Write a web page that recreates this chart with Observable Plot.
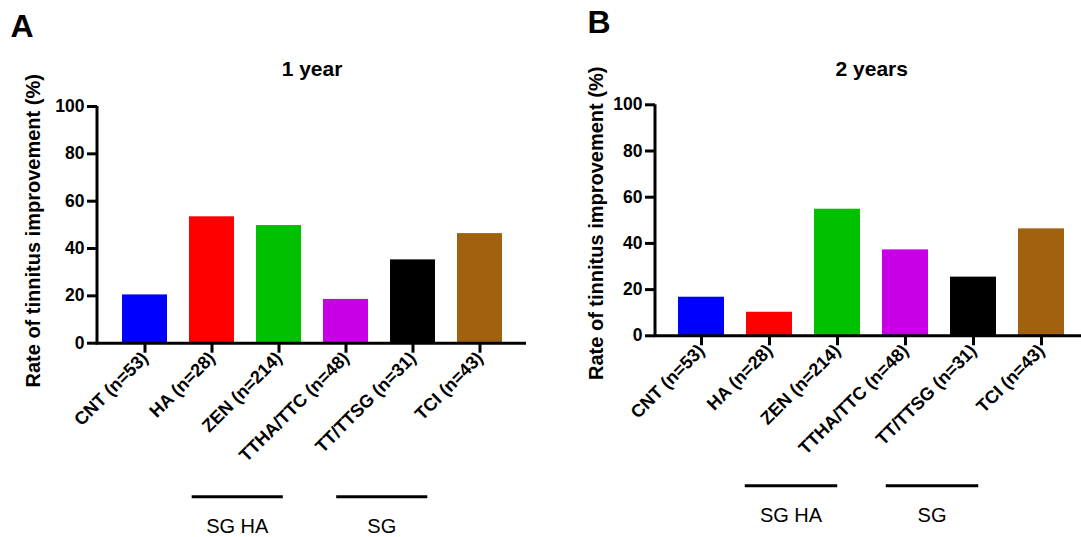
<!DOCTYPE html>
<html><head><meta charset="utf-8">
<script src="https://cdn.jsdelivr.net/npm/d3@7"></script>
<script src="https://cdn.jsdelivr.net/npm/@observablehq/plot@0.6"></script>
<style>
body{margin:0;background:#fff;}
#wrap{position:relative;width:1081px;height:537px;overflow:hidden;background:#fff;}
.panel{position:absolute;top:0;}
</style></head><body>
<div id="wrap"></div>
<script>
const categories = ["CNT (n=53)", "HA (n=28)", "ZEN (n=214)", "TTHA/TTC (n=48)", "TT/TTSG (n=31)", "TCI (n=43)"];
const barColors = ["#0000ff", "#ff0000", "#00c000", "#c800e6", "#000000", "#a0620f"];
const year1Values = [20.4, 53.4, 49.7, 18.5, 35.2, 46.3];
const year2Values = [16.7, 10.2, 54.8, 37.2, 25.4, 46.3];
const yTicks = [0, 20, 40, 60, 80, 100];
const groupLabels = ["SG HA", "SG"];
const groupFrom = ["HA (n=28)", "TTHA/TTC (n=48)"];
const groupTo = ["ZEN (n=214)", "TT/TTSG (n=31)"];
const yLabel = "Rate of tinnitus improvement (%)";
const titles = ["1 year", "2 years"];
const letters = ["A", "B"];

const FONT = "'Liberation Sans', Arial, Helvetica, sans-serif";
const wrap = document.getElementById("wrap");

function panel(cfg) {
  const data = categories.map((c, i) => ({cat: c, value: cfg.values[i], color: barColors[i]}));
  const svg = Plot.plot({
    width: cfg.width, height: 537,
    marginLeft: cfg.ml, marginRight: cfg.mr, marginTop: cfg.mt, marginBottom: cfg.mb,
    style: {fontFamily: FONT, color: "#000", background: "transparent", overflow: "visible"},
    x: {domain: categories, paddingInner: 0.33, paddingOuter: 0.345, label: null},
    y: {domain: [0, 100], label: null},
    color: {type: "identity"},
    marks: [
      Plot.barY(data, {x: "cat", y: "value", fill: "color"}),
      Plot.ruleY([0], {stroke: "#000", strokeWidth: 3, insetLeft: -1.5}),
      Plot.axisY({ticks: yTicks, tickSize: 10, tickPadding: 3, fontSize: 17.5, fontWeight: "bold", strokeWidth: 3, label: null}),
      Plot.axisX({tickSize: 10, tickRotate: -45, tickPadding: 2, fontSize: 18, fontWeight: "bold", strokeWidth: 3, label: null}),
      Plot.text([yLabel], {frameAnchor: "left", textAnchor: "middle", rotate: -90, dx: cfg.ylabDx, dy: cfg.ylabDy, fontSize: 20, fontWeight: "bold"}),
      Plot.text([cfg.title], {frameAnchor: "top", dy: cfg.titleDy, fontSize: 21, fontWeight: "bold"}),
      Plot.text([cfg.letter], {frameAnchor: "top-left", textAnchor: "start", lineAnchor: "top", dx: cfg.letterDx, dy: cfg.letterDy, fontSize: 32, fontWeight: "bold"})
    ]
  });
  const sx = svg.scale("x"), sy = svg.scale("y");
  const g = d3.select(svg).append("g");
  const x0 = sx.range[0];
  g.append("line").attr("x1", x0).attr("x2", x0)
    .attr("y1", sy.apply(0) + 1.5).attr("y2", sy.apply(100))
    .attr("stroke", "#000").attr("stroke-width", 3);
  const y0 = sy.apply(0);
  groupLabels.forEach((lab, i) => {
    const a = sx.apply(groupFrom[i]) + 0.07 * sx.step + cfg.groupShift[i];
    const b = sx.apply(groupTo[i]) + 0.43 * sx.step + cfg.groupShift[i];
    g.append("line").attr("x1", a).attr("x2", b)
      .attr("y1", y0 + cfg.lineOff).attr("y2", y0 + cfg.lineOff)
      .attr("stroke", "#000").attr("stroke-width", 3);
    g.append("text").attr("x", (a + b) / 2).attr("y", y0 + cfg.textOff)
      .attr("text-anchor", "middle").attr("font-size", 20).attr("font-family", FONT)
      .attr("fill", "#000").text(lab);
  });
  svg.classList.add("panel");
  svg.style.left = cfg.left + "px";
  wrap.appendChild(svg);
}

panel({left: 0, width: 540, ml: 97, mr: 14, mt: 106, mb: 194.3, values: year1Values,
  title: titles[0], titleDy: -45, letter: letters[0], letterDx: -87, letterDy: -92,
  ylabDx: -64, ylabDy: 6, lineOff: 154, textOff: 190, groupShift: [-2, 8.5]});
panel({left: 540, width: 550, ml: 115, mr: 2.5, mt: 104.3, mb: 201.7, values: year2Values,
  title: titles[1], titleDy: -44, letter: letters[1], letterDx: -68, letterDy: -94.3,
  ylabDx: -59, ylabDy: 3, lineOff: 150.4, textOff: 186.4, groupShift: [-6, -1]});
</script>
</body></html>
